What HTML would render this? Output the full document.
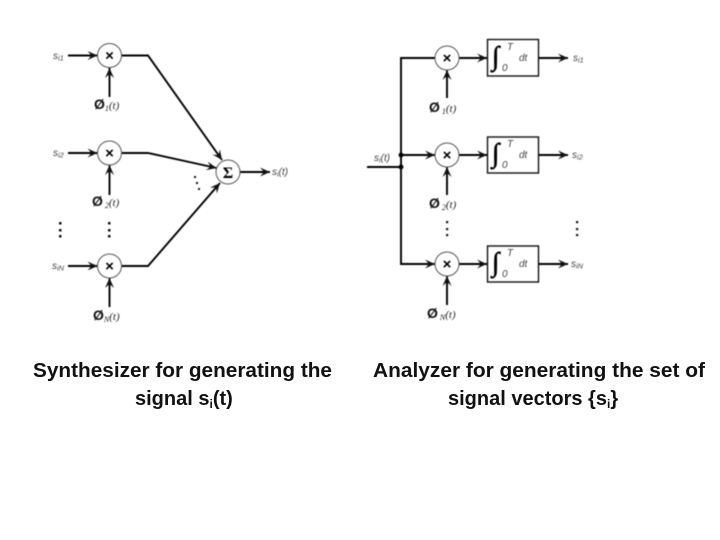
<!DOCTYPE html>
<html>
<head>
<meta charset="utf-8">
<style>
html,body{margin:0;padding:0;background:#fff;width:720px;height:540px;overflow:hidden}
svg{display:block;position:absolute;left:0;top:0}
.d{filter:blur(.45px)}
.c{fill:#fff;stroke:#555;stroke-width:1}
.l{fill:none;stroke:#000;stroke-width:1.9}
.t{font-family:"Liberation Sans",sans-serif;font-style:italic;font-size:10px;fill:#444}
.u{font-size:7.5px}
.p{font-family:"Liberation Serif",serif;font-style:italic;font-weight:normal;font-size:11px;fill:#222}
.q{font-size:8px}
.o{font-family:"Liberation Sans",sans-serif;font-weight:bold;font-size:14px;fill:#111}
.x{font-family:"Liberation Sans",sans-serif;font-weight:bold;font-size:15px;fill:#000;text-anchor:middle}
.b{font-family:"Liberation Sans",sans-serif;font-weight:bold;font-size:20px;fill:#111}
.s{font-family:"Liberation Sans",sans-serif;font-weight:bold;font-size:12px;fill:#111}
.i{font-family:"Liberation Serif",serif;font-style:italic;font-size:27px;fill:#000;stroke:#000;stroke-width:.6}
.k{fill:#111}
</style>
</head>
<body>
<svg width="720" height="540" viewBox="0 0 720 540" xmlns="http://www.w3.org/2000/svg">
<defs>
<marker id="h" markerWidth="12" markerHeight="10" refX="10" refY="5" orient="auto" markerUnits="userSpaceOnUse">
<path d="M0,.5 L10,5 L0,9.500 L4,5 Z" fill="#111"/>
</marker>
</defs>
<g class="d">
<path class="l" marker-end="url(#h)" d="M68,55.5H97.5"/>
<path class="l" marker-end="url(#h)" d="M68,153H97.5"/>
<path class="l" marker-end="url(#h)" d="M68,266H97.5"/>
<path class="l" marker-end="url(#h)" d="M109.5,97V68"/>
<path class="l" marker-end="url(#h)" d="M109.5,195V165"/>
<path class="l" marker-end="url(#h)" d="M109.5,307V278"/>
<path class="l" marker-end="url(#h)" d="M122,55.5H148L222,160"/>
<path class="l" marker-end="url(#h)" d="M122,153H148L216.500,168"/>
<path class="l" marker-end="url(#h)" d="M122,266H148L220,183"/>
<path class="l" marker-end="url(#h)" d="M240,172H270"/>
<circle class="c" cx="109.500" cy="55.500" r="12"/>
<circle class="c" cx="109.500" cy="153" r="12"/>
<circle class="c" cx="109.500" cy="266" r="12"/>
<circle class="c" cx="228" cy="172" r="12"/>
<text class="x" x="109.500" y="60.500">×</text>
<text class="x" x="109.500" y="158">×</text>
<text class="x" x="109.500" y="271">×</text>
<text x="228" y="178" text-anchor="middle" style="font:bold 16px 'Liberation Serif',serif;fill:#000">Σ</text>
<text class="t" x="53" y="59">s<tspan class="u" dy="1.500">i1</tspan></text>
<text class="t" x="53" y="156">s<tspan class="u" dy="1.500">i2</tspan></text>
<text class="t" x="52" y="269">s<tspan class="u" dy="1.500">iN</tspan></text>
<text class="t" x="272" y="175">s<tspan class="u" dy="1.500">i</tspan><tspan dy="-1.500">(t)</tspan></text>
<text class="o" x="94" y="109">Ø<tspan class="p q" dy="2">1</tspan><tspan class="p" dy="-2">(t)</tspan></text>
<text class="o" x="92" y="206">Ø<tspan class="p q" dy="2"> 2</tspan><tspan class="p" dy="-2">(t)</tspan></text>
<text class="o" x="93" y="320">Ø<tspan class="p q" dy="2">N</tspan><tspan class="p" dy="-2">(t)</tspan></text>
<g class="k">
<rect x="59" y="222" width="2.500" height="2.500"/><rect x="59" y="229" width="2.500" height="2.500"/><rect x="59" y="235" width="2.500" height="2.500"/>
<rect x="108" y="222" width="2.500" height="2.500"/><rect x="108" y="229" width="2.500" height="2.500"/><rect x="108" y="235" width="2.500" height="2.500"/>
<rect x="194" y="176" width="2" height="2"/><rect x="196" y="182" width="2" height="2"/><rect x="198" y="188" width="2" height="2"/>
<rect x="446" y="221" width="2.200" height="2.200"/><rect x="446" y="228" width="2.200" height="2.200"/><rect x="446" y="234" width="2.200" height="2.200"/>
<rect x="576" y="221" width="2.200" height="2.200"/><rect x="576" y="228" width="2.200" height="2.200"/><rect x="576" y="234" width="2.200" height="2.200"/>
<circle cx="401" cy="155" r="2.500"/><circle cx="401" cy="167" r="2.500"/>
</g>
<path class="l" d="M367,167H401"/>
<path class="l" marker-end="url(#h)" d="M435,58H401V264H435"/>
<path class="l" marker-end="url(#h)" d="M401,155H435"/>
<path class="l" marker-end="url(#h)" d="M459,58H487"/>
<path class="l" marker-end="url(#h)" d="M459,155H487"/>
<path class="l" marker-end="url(#h)" d="M459,264H487"/>
<path class="l" marker-end="url(#h)" d="M539,58H568"/>
<path class="l" marker-end="url(#h)" d="M539,155H568"/>
<path class="l" marker-end="url(#h)" d="M539,264H568"/>
<path class="l" marker-end="url(#h)" d="M447,98V70"/>
<path class="l" marker-end="url(#h)" d="M447,195V167"/>
<path class="l" marker-end="url(#h)" d="M447,305V276"/>
<circle class="c" cx="447" cy="58" r="12"/>
<circle class="c" cx="447" cy="155" r="12"/>
<circle class="c" cx="447" cy="264" r="12"/>
<text class="x" x="447" y="63">×</text>
<text class="x" x="447" y="160">×</text>
<text class="x" x="447" y="269">×</text>
<rect x="487.500" y="39.500" width="51" height="36.500" fill="#fff" stroke="#111" stroke-width="1.400"/>
<rect x="487.500" y="137" width="51" height="36" fill="#fff" stroke="#111" stroke-width="1.400"/>
<rect x="487.500" y="246" width="51" height="36" fill="#fff" stroke="#111" stroke-width="1.400"/>
<text class="i" x="492" y="65">∫</text>
<text class="i" x="492" y="162">∫</text>
<text class="i" x="492" y="271">∫</text>
<text class="t" x="507" y="50">T</text><text class="t" x="502" y="71">0</text><text class="t" x="519" y="61">dt</text>
<text class="t" x="507" y="147">T</text><text class="t" x="502" y="168">0</text><text class="t" x="519" y="158">dt</text>
<text class="t" x="507" y="256">T</text><text class="t" x="502" y="277">0</text><text class="t" x="519" y="267">dt</text>
<text class="t" x="573" y="61">s<tspan class="u" dy="1.500">i1</tspan></text>
<text class="t" x="572" y="158">s<tspan class="u" dy="1.500">i2</tspan></text>
<text class="t" x="571" y="267">s<tspan class="u" dy="1.500">iN</tspan></text>
<text class="t" x="374" y="161">s<tspan class="u" dy="1.500">i</tspan><tspan dy="-1.500">(t)</tspan></text>
<text class="o" x="429" y="112">Ø<tspan class="p q" dy="2"> 1</tspan><tspan class="p" dy="-2">(t)</tspan></text>
<text class="o" x="429" y="208">Ø<tspan class="p q" dy="2"> 2</tspan><tspan class="p" dy="-2">(t)</tspan></text>
<text class="o" x="427" y="318">Ø<tspan class="p q" dy="2"> N</tspan><tspan class="p" dy="-2">(t)</tspan></text>
</g>
<text class="b" x="33" y="377" textLength="299" lengthAdjust="spacingAndGlyphs">Synthesizer for generating the</text>
<text class="b" x="135" y="405">signal s<tspan class="s" dy="3">i</tspan><tspan dy="-3">(t)</tspan></text>
<text class="b" x="373" y="377" textLength="332" lengthAdjust="spacingAndGlyphs">Analyzer for generating the set of</text>
<text class="b" x="448" y="405">signal vectors {s<tspan class="s" dy="3">i</tspan><tspan dy="-3">}</tspan></text>
</svg>
</body>
</html>
